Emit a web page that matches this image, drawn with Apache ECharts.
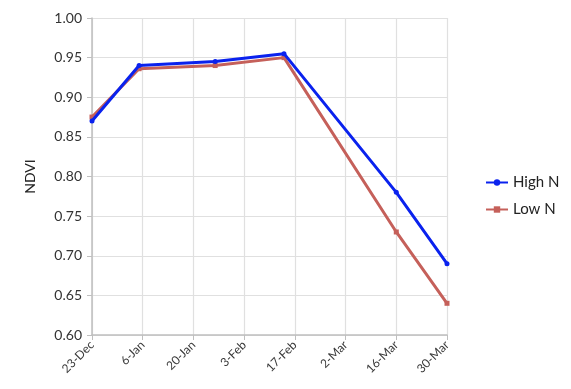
<!DOCTYPE html>
<html>
<head>
<meta charset="utf-8">
<script src="https://cdn.jsdelivr.net/npm/echarts@6/dist/echarts.min.js"></script>
<style>html,body{margin:0;padding:0;background:#fff}#c{width:571px;height:389px}</style>
</head>
<body>
<div id="c"></div>
<script>
var startDate = '2015-12-23';
var endDate = '2016-03-30';
var sampleDates = ['2015-12-23', '2016-01-05', '2016-01-26', '2016-02-14', '2016-03-16', '2016-03-30'];
var highN = [0.870, 0.940, 0.945, 0.955, 0.780, 0.690];
var lowN = [0.875, 0.936, 0.940, 0.950, 0.730, 0.640];
var seriesNames = ['High N', 'Low N'];
var yTicks = [0.60, 0.65, 0.70, 0.75, 0.80, 0.85, 0.90, 0.95, 1.00];
var monthNames = ['Jan','Feb','Mar','Apr','May','Jun','Jul','Aug','Sep','Oct','Nov','Dec'];

var DAY = 86400000;
var t0 = Date.parse(startDate + 'T00:00:00Z');
function dayOffset(s){ return Math.round((Date.parse(s + 'T00:00:00Z') - t0) / DAY); }
function fmt(d){ var dt = new Date(t0 + d * DAY); return dt.getUTCDate() + '-' + monthNames[dt.getUTCMonth()]; }
var xs = sampleDates.map(dayOffset);
function pts(v){ return xs.map(function(x,i){ return [x, v[i]]; }); }

var font = 'Lato, "Open Sans", sans-serif';
var chart = echarts.init(document.getElementById('c'), null, {renderer: 'canvas'});
chart.setOption({
  animation: false,
  grid: {left: 92, right: 124, top: 18, bottom: 54, containLabel: false},
  legend: {
    orient: 'vertical', left: 480, top: 170, itemGap: 12,
    itemWidth: 22, itemHeight: 8,
    textStyle: {fontFamily: font, fontSize: 15, color: '#222'},
    data: seriesNames
  },
  xAxis: {
    type: 'value', min: 0, max: dayOffset(endDate), interval: 14,
    axisLine: {show: true, lineStyle: {color: '#bfbfbf', width: 1.5}},
    axisTick: {show: true, length: 5, lineStyle: {color: '#bfbfbf'}},
    splitLine: {show: true, lineStyle: {color: '#e0e0e0', width: 1.2}},
    axisLabel: {rotate: 45, formatter: fmt, fontFamily: font, fontSize: 12, color: '#3a3a3a', margin: 8}
  },
  yAxis: {
    type: 'value', min: yTicks[0], max: yTicks[yTicks.length-1], interval: 0.05,
    name: 'NDVI', nameLocation: 'middle', nameGap: 55, nameRotate: 90,
    nameTextStyle: {fontFamily: font, fontSize: 14, color: '#222'},
    axisLine: {show: true, lineStyle: {color: '#bfbfbf', width: 1.5}},
    axisTick: {show: true, length: 5, lineStyle: {color: '#bfbfbf'}},
    splitLine: {show: true, lineStyle: {color: '#e0e0e0', width: 1.2}},
    axisLabel: {formatter: function(v){ return v.toFixed(2); }, fontFamily: font, fontSize: 14, color: '#333', margin: 10}
  },
  series: [
    {name: seriesNames[0], type: 'line', data: pts(highN), color: '#0a22ee',
     lineStyle: {width: 3}, symbol: 'circle', symbolSize: 5, z: 3},
    {name: seriesNames[1], type: 'line', data: pts(lowN), color: '#c5605a',
     lineStyle: {width: 3}, symbol: 'rect', symbolSize: 5, z: 2}
  ]
});
</script>
</body>
</html>
